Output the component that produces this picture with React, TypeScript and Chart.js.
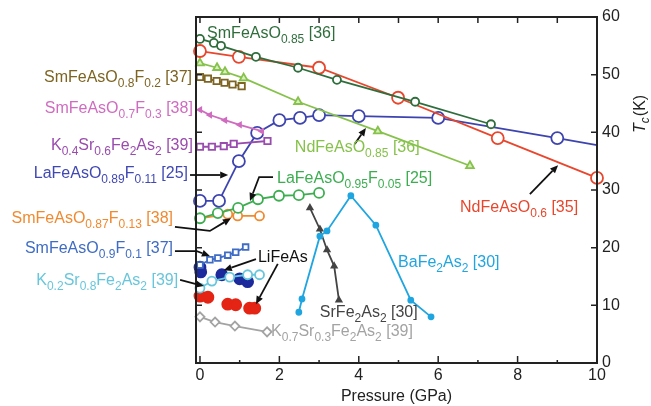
import React, { useEffect, useRef } from 'react';
import { Chart, registerables } from 'chart.js';
Chart.register(...registerables);

const FONT = '"Liberation Sans", Arial, Helvetica, sans-serif';

// ---- data (Pressure in GPa, Tc in K) ----
const smO085P = [0, 0.35, 0.53, 1.41, 2.47, 3.45, 5.42, 7.33];
const smO085T = [56.2, 55.5, 55.0, 53.1, 51.2, 49.1, 45.3, 41.4];

const ndO06P = [0, 0.98, 3.0, 4.99, 7.5, 10];
const ndO06T = [54.1, 53.1, 51.2, 46.0, 39.0, 32.1];

const ndO085P = [0, 0.43, 0.63, 1.1, 2.47, 4.48, 6.8];
const ndO085T = [52.0, 51.2, 50.5, 49.4, 45.3, 40.2, 34.2];

const smF02P = [0, 0.2, 0.42, 0.62, 0.82, 1.05];
const smF02T = [49.6, 49.3, 48.9, 48.6, 48.3, 48.0];

const smF03P = [0, 0.25, 0.63, 1.0, 1.56];
const smF03T = [43.9, 43.0, 42.1, 41.3, 40.2];

const k04P = [0, 0.3, 0.6, 0.85, 1.7];
const k04T = [37.5, 37.5, 37.6, 38.0, 38.5];

const laF011P = [0, 0.48, 0.98, 1.44, 2.0, 2.52, 3.0, 4.0, 6.0, 9.0, 10];
const laF011T = [28.1, 28.1, 35.0, 39.9, 42.1, 42.5, 43.0, 42.8, 42.5, 39.0, 37.8];

const laF005P = [0, 0.45, 0.96, 1.46, 1.99, 2.49, 3.0];
const laF005T = [25.1, 26.0, 26.9, 28.4, 29.0, 29.1, 29.5];

const smF013P = [0, 0.7, 0.95, 1.5];
const smF013T = [25.1, 25.8, 25.5, 25.5];

const smF01P = [0, 0.25, 0.45, 0.7, 0.9, 1.15];
const smF01T = [17.0, 17.9, 18.2, 18.7, 19.2, 20.1];

const liBlueP = [0, 0.02, 0.55, 1.0, 1.2];
const liBlueT = [16.6, 15.8, 15.3, 14.6, 14.1];

const liRedP = [0, 0.2, 0.7, 0.9, 1.25, 1.38];
const liRedT = [11.6, 11.4, 10.2, 10.1, 9.5, 9.5];

const k02P = [0, 0.3, 0.75, 1.2, 1.5];
const k02T = [13.0, 14.2, 14.9, 15.3, 15.3];

const k07P = [0, 0.38, 0.88, 1.69];
const k07T = [8.0, 7.1, 6.4, 5.4];

const baP = [2.49, 2.57, 3.02, 3.2, 3.8, 4.43, 5.31, 5.82];
const baT = [8.8, 11.1, 22.0, 22.9, 29.0, 23.9, 10.9, 8.0];

const srP = [2.77, 3.02, 3.2, 3.38, 3.5];
const srT = [26.9, 23.2, 19.6, 16.8, 10.9];

const xTicks = [0, 2, 4, 6, 8, 10];
const yTicks = [0, 10, 20, 30, 40, 50, 60];

// ---- labels (data coordinates of text anchor, baseline) ----
const labels = [
  { text: 'SmFeAsO_{0.85} [36]', p: 0.18, t: 56.4, color: '#2f6e3c', align: 'left' },
  { text: 'SmFeAsO_{0.8}F_{0.2} [37]', p: -0.2, t: 48.7, color: '#7d6422', align: 'right' },
  { text: 'SmFeAsO_{0.7}F_{0.3} [38]', p: -0.18, t: 43.4, color: '#d06cc0', align: 'right' },
  { text: 'K_{0.4}Sr_{0.6}Fe_{2}As_{2} [39]', p: -0.18, t: 36.9, color: '#9a4cae', align: 'right' },
  { text: 'LaFeAsO_{0.89}F_{0.11} [25]', p: -0.3, t: 32.1, color: '#4048b4', align: 'right' },
  { text: 'SmFeAsO_{0.87}F_{0.13} [38]', p: -0.68, t: 24.3, color: '#f08a30', align: 'right' },
  { text: 'SmFeAsO_{0.9}F_{0.1} [37]', p: -0.68, t: 19.1, color: '#3f6cc4', align: 'right' },
  { text: 'K_{0.2}Sr_{0.8}Fe_{2}As_{2} [39]', p: -0.55, t: 13.5, color: '#68c6dc', align: 'right' },
  { text: 'K_{0.7}Sr_{0.3}Fe_{2}As_{2} [39]', p: 1.79, t: 4.7, color: '#a3a3a3', align: 'left' },
  { text: 'LiFeAs', p: 1.46, t: 17.5, color: '#111111', align: 'left' },
  { text: 'LaFeAsO_{0.95}F_{0.05} [25]', p: 1.94, t: 31.2, color: '#3cae50', align: 'left' },
  { text: 'NdFeAsO_{0.85} [36]', p: 2.39, t: 36.6, color: '#86c24a', align: 'left' },
  { text: 'NdFeAsO_{0.6} [35]', p: 6.55, t: 26.2, color: '#e8472d', align: 'left' },
  { text: 'BaFe_{2}As_{2} [30]', p: 4.99, t: 16.6, color: '#1fa5e0', align: 'left' },
  { text: 'SrFe_{2}As_{2} [30]', p: 3.02, t: 8.0, color: '#444444', align: 'left' },
];

// ---- arrows (polylines in data coordinates, head at last point) ----
const arrows: number[][][] = [
  [[-0.25, 32.6], [0.71, 32.6]],
  [[-0.63, 23.6], [0.25, 22.9], [0.78, 25.1]],
  [[-0.63, 19.4], [-0.08, 19.4], [0.25, 18.55]],
  [[-0.5, 14.4], [0.1, 13.35]],
  [[1.41, 18.0], [0.6, 16.1]],
  [[1.96, 17.2], [1.41, 10.2]],
  [[1.84, 32.25], [1.49, 32.25], [1.26, 28.1]],
  [[3.9, 38.0], [4.18, 40.75]],
  [[8.31, 29.3], [9.02, 34.3]],
];

function pts(P: number[], T: number[]) {
  return P.map((p, i) => ({ x: p, y: T[i] }));
}

function parseRich(s: string) {
  const parts: { t: string; sub: boolean }[] = [];
  const re = /_\{([^}]*)\}/g;
  let last = 0;
  let m: RegExpExecArray | null;
  while ((m = re.exec(s))) {
    if (m.index > last) parts.push({ t: s.slice(last, m.index), sub: false });
    parts.push({ t: m[1], sub: true });
    last = re.lastIndex;
  }
  if (last < s.length) parts.push({ t: s.slice(last), sub: false });
  return parts;
}

function drawRich(ctx: CanvasRenderingContext2D, s: string, x: number, y: number, color: string, align: string) {
  const parts = parseRich(s);
  const mainF = `16px ${FONT}`;
  const subF = `12px ${FONT}`;
  let w = 0;
  for (const p of parts) {
    ctx.font = p.sub ? subF : mainF;
    w += ctx.measureText(p.t).width;
  }
  let cx = align === 'right' ? x - w : x;
  ctx.fillStyle = color;
  ctx.textAlign = 'left';
  ctx.textBaseline = 'alphabetic';
  for (const p of parts) {
    ctx.font = p.sub ? subF : mainF;
    ctx.fillText(p.t, cx, p.sub ? y + 5 : y);
    cx += ctx.measureText(p.t).width;
  }
}

const decorPlugin = {
  id: 'decor',
  afterDraw(chart: any) {
    const { ctx, chartArea: a, scales } = chart;
    const xs = scales.x;
    const ys = scales.y;
    ctx.save();
    // frame
    ctx.strokeStyle = '#222';
    ctx.lineWidth = 2;
    ctx.strokeRect(a.left, a.top, a.right - a.left, a.bottom - a.top);
    // ticks
    ctx.lineWidth = 1.5;
    ctx.beginPath();
    for (let v = 0; v <= 10; v++) {
      const px = xs.getPixelForValue(v);
      const major = v % 2 === 0;
      ctx.moveTo(px, a.bottom);
      ctx.lineTo(px, a.bottom - (major ? 7 : 3));
      ctx.moveTo(px, a.top);
      ctx.lineTo(px, a.top + 6);
    }
    for (const v of yTicks) {
      const py = ys.getPixelForValue(v);
      ctx.moveTo(a.left, py);
      ctx.lineTo(a.left + 6, py);
      ctx.moveTo(a.right, py);
      ctx.lineTo(a.right - 6, py);
    }
    ctx.stroke();

    // arrows
    ctx.strokeStyle = '#111';
    ctx.fillStyle = '#111';
    ctx.lineWidth = 1.8;
    for (const arr of arrows) {
      const pp = arr.map(([p, t]) => [xs.getPixelForValue(p), ys.getPixelForValue(t)]);
      const n = pp.length;
      const [x1, y1] = pp[n - 1];
      const [x0, y0] = pp[n - 2];
      const ang = Math.atan2(y1 - y0, x1 - x0);
      const hl = 8, hw = 3.5;
      const bx = x1 - hl * Math.cos(ang);
      const by = y1 - hl * Math.sin(ang);
      ctx.beginPath();
      ctx.moveTo(pp[0][0], pp[0][1]);
      for (let i = 1; i < n - 1; i++) ctx.lineTo(pp[i][0], pp[i][1]);
      ctx.lineTo(bx, by);
      ctx.stroke();
      ctx.beginPath();
      ctx.moveTo(x1, y1);
      ctx.lineTo(bx + hw * Math.sin(ang), by - hw * Math.cos(ang));
      ctx.lineTo(bx - hw * Math.sin(ang), by + hw * Math.cos(ang));
      ctx.closePath();
      ctx.fill();
    }

    // labels
    for (const l of labels) {
      drawRich(ctx, l.text, xs.getPixelForValue(l.p), ys.getPixelForValue(l.t), l.color, l.align);
    }

    // y title T_c(K)
    ctx.save();
    ctx.translate(a.right + 44, ys.getPixelForValue(43.2));
    ctx.rotate(-Math.PI / 2);
    ctx.fillStyle = '#222';
    ctx.textBaseline = 'middle';
    const f1 = `italic 16px ${FONT}`;
    const f2 = `italic 12px ${FONT}`;
    const f3 = `16px ${FONT}`;
    ctx.font = f1; const w1 = ctx.measureText('T').width;
    ctx.font = f2; const w2 = ctx.measureText('c').width;
    ctx.font = f3; const w3 = ctx.measureText('(K)').width;
    let cx = -(w1 + w2 + w3 + 1) / 2;
    ctx.textAlign = 'left';
    ctx.font = f1; ctx.fillText('T', cx, 0); cx += w1;
    ctx.font = f2; ctx.fillText('c', cx, 5); cx += w2 + 1;
    ctx.font = f3; ctx.fillText('(K)', cx, 0);
    ctx.restore();

    ctx.restore();
  },
};

function ds(label: string, P: number[], T: number[], color: string, o: any = {}) {
  return {
    label,
    data: pts(P, T),
    borderColor: color,
    backgroundColor: '#ffffff',
    pointBorderColor: color,
    pointBackgroundColor: '#ffffff',
    borderWidth: 1.8,
    pointBorderWidth: 1.8,
    pointRadius: 4,
    pointStyle: 'circle',
    showLine: true,
    clip: false,
    ...o,
  };
}

export default function App() {
  const ref = useRef<HTMLCanvasElement>(null);
  useEffect(() => {
    if (!ref.current) return;
    const datasets: any[] = [
      ds('K0.7Sr0.3Fe2As2', k07P, k07T, '#a3a3a3', { pointStyle: 'rectRot', pointRadius: 4.5 }),
      ds('BaFe2As2', baP, baT, '#1fa5e0', { pointRadius: 2.5, pointBackgroundColor: '#1fa5e0' }),
      ds('SrFe2As2', srP, srT, '#444444', { pointStyle: 'triangle', pointRadius: 3, pointBackgroundColor: '#444444' }),
      ds('SmFeAsO0.85', smO085P, smO085T, '#2f6e3c', { pointRadius: 4 }),
      ds('NdFeAsO0.6', ndO06P, ndO06T, '#e8472d', { pointRadius: 6 }),
      ds('NdFeAsO0.85', ndO085P, ndO085T, '#86c24a', { pointStyle: 'triangle', pointRadius: 4.5, pointBackgroundColor: '#d6efbf' }),
      ds('SmFeAsO0.8F0.2', smF02P, smF02T, '#7d6422', { pointStyle: 'rect', pointRadius: 4.5 }),
      ds('SmFeAsO0.7F0.3', smF03P, smF03T, '#d06cc0', { pointStyle: 'triangle', pointRotation: -90, pointRadius: 2.5, pointBackgroundColor: '#d06cc0' }),
      ds('K0.4Sr0.6Fe2As2', k04P, k04T, '#9a4cae', { pointStyle: 'rect', pointRadius: 4.5 }),
      ds('LaFeAsO0.89F0.11', laF011P, laF011T, '#3d44b0', { pointRadius: [6, 6, 6, 6, 6, 6, 6, 6, 6, 6, 0] }),
      ds('LaFeAsO0.95F0.05', laF005P, laF005T, '#3cae50', { pointRadius: 5 }),
      ds('SmFeAsO0.87F0.13', smF013P, smF013T, '#f08a30', { pointRadius: 4.5 }),
      ds('SmFeAsO0.9F0.1', smF01P, smF01T, '#3f6cc4', { pointStyle: 'rect', pointRadius: 4 }),
      ds('K0.2Sr0.8Fe2As2', k02P, k02T, '#68c6dc', { pointRadius: 4.5 }),
      ds('LiFeAs (a)', liBlueP, liBlueT, '#1c2a9c', { showLine: false, pointRadius: 5.5, pointBackgroundColor: '#1c2a9c' }),
      ds('LiFeAs (b)', liRedP, liRedT, '#e42414', { showLine: false, pointRadius: 5.5, pointBackgroundColor: '#e42414' }),
    ];
    const chart = new Chart(ref.current, {
      type: 'line',
      data: { datasets },
      options: {
        animation: false,
        responsive: false,
        layout: { padding: { left: 196, top: 17, right: 30, bottom: 0 } },
        plugins: { legend: { display: false }, tooltip: { enabled: false } },
        scales: {
          x: {
            type: 'linear',
            min: -0.1,
            max: 10,
            afterBuildTicks: (s: any) => { s.ticks = xTicks.map((v) => ({ value: v })); },
            afterFit: (s: any) => { s.height = 43; },
            grid: { display: false, drawTicks: false },
            border: { display: false },
            ticks: { padding: 3, color: '#222', font: { family: FONT, size: 16 } },
            title: { display: true, text: 'Pressure (GPa)', color: '#222', font: { family: FONT, size: 16 }, padding: { top: 0, bottom: 0 } },
          },
          y: {
            type: 'linear',
            position: 'right',
            min: 0,
            max: 60,
            afterBuildTicks: (s: any) => { s.ticks = yTicks.map((v) => ({ value: v })); },
            afterFit: (s: any) => { s.width = 24; },
            grid: { display: false, drawTicks: false },
            border: { display: false },
            ticks: { padding: 5, color: '#222', font: { family: FONT, size: 16 } },
          },
        },
      },
      plugins: [decorPlugin],
    });
    return () => chart.destroy();
  }, []);
  return (
    <div style={{ position: 'fixed', left: 0, top: 0, width: 651, height: 406, background: '#fff' }}>
      <canvas ref={ref} width={651} height={406} />
    </div>
  );
}
